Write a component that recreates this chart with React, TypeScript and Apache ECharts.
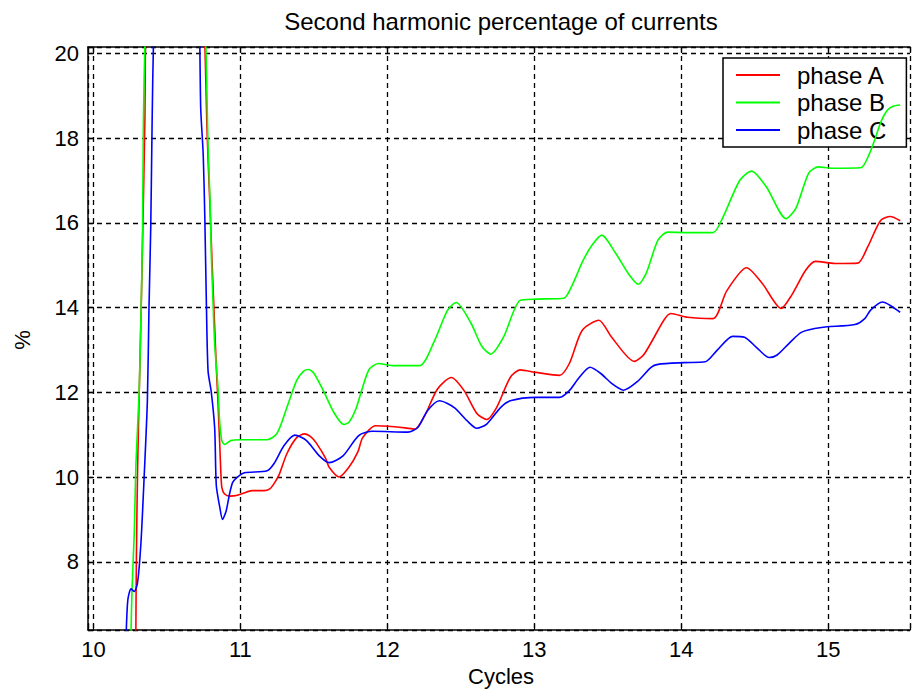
import React, { useEffect, useRef } from "react";
import * as echarts from "echarts";

const titleText = "Second harmonic percentage of currents";
const xAxisName = "Cycles";
const yAxisName = "%";
const seriesNames = ["phase A", "phase B", "phase C"];
const seriesColors = ["#ff0000", "#00ff00", "#0000ff"];

const xMin = 9.963;
const xMax = 15.556;
const yMin = 6.39;
const yMax = 20.15;

const cyclesA = [10.288, 10.292, 10.3, 10.311, 10.323, 10.334, 10.35, 10.356, 10.45, 10.62, 10.755, 10.765, 10.772, 10.78, 10.794, 10.808, 10.822, 10.836, 10.847, 10.859, 10.867, 10.874, 10.892, 10.93, 10.98, 11.02, 11.08, 11.16, 11.2, 11.23, 11.263, 11.316, 11.383, 11.437, 11.48, 11.517, 11.58, 11.604, 11.671, 11.738, 11.8, 11.832, 11.919, 12.006, 12.12, 12.187, 12.254, 12.341, 12.435, 12.522, 12.609, 12.676, 12.743, 12.836, 12.903, 13.011, 13.171, 13.238, 13.325, 13.439, 13.526, 13.68, 13.747, 13.881, 13.928, 14.042, 14.216, 14.31, 14.444, 14.551, 14.679, 14.752, 14.846, 14.913, 15.047, 15.201, 15.268, 15.355, 15.422, 15.489];
const phaseA = [6.0, 8.0, 10.1, 11.9, 13.7, 15.5, 18.4, 20.5, 30, 30, 20.5, 19.3, 18.3, 17.5, 16.3, 15.0, 13.8, 12.6, 11.8, 10.8, 10.1, 9.75, 9.6, 9.55, 9.57, 9.62, 9.68, 9.68, 9.72, 9.85, 10.05, 10.55, 10.93, 11.02, 10.95, 10.8, 10.44, 10.23, 10.0, 10.23, 10.6, 10.93, 11.21, 11.2, 11.16, 11.13, 11.45, 12.08, 12.35, 12.04, 11.5, 11.36, 11.64, 12.35, 12.53, 12.47, 12.4, 12.68, 13.46, 13.7, 13.3, 12.73, 12.9, 13.7, 13.86, 13.77, 13.74, 14.4, 14.94, 14.57, 13.98, 14.3, 14.88, 15.09, 15.04, 15.05, 15.43, 16.05, 16.15, 16.05];

const cyclesB = [10.254, 10.262, 10.278, 10.289, 10.311, 10.323, 10.334, 10.34, 10.352, 10.45, 10.62, 10.762, 10.78, 10.794, 10.802, 10.814, 10.825, 10.847, 10.859, 10.874, 10.892, 10.934, 11.0, 11.182, 11.249, 11.316, 11.383, 11.43, 11.464, 11.5, 11.564, 11.64, 11.705, 11.74, 11.785, 11.872, 11.939, 12.033, 12.22, 12.321, 12.408, 12.468, 12.569, 12.64, 12.703, 12.79, 12.903, 13.011, 13.2, 13.26, 13.33, 13.392, 13.459, 13.55, 13.64, 13.707, 13.76, 13.841, 13.908, 14.042, 14.216, 14.283, 14.397, 14.478, 14.578, 14.712, 14.779, 14.866, 14.933, 15.02, 15.221, 15.281, 15.315, 15.36, 15.4, 15.44, 15.489];
const phaseB = [6.0, 7.3, 8.7, 10.3, 12.0, 13.7, 15.8, 18.4, 20.5, 32, 32, 20.5, 17.8, 16.5, 15.24, 14.1, 13.13, 12.13, 11.3, 10.85, 10.77, 10.86, 10.88, 10.88, 11.03, 11.64, 12.28, 12.5, 12.54, 12.45, 12.04, 11.5, 11.24, 11.3, 11.6, 12.52, 12.68, 12.63, 12.63, 13.22, 13.93, 14.12, 13.63, 13.1, 12.9, 13.3, 14.17, 14.2, 14.22, 14.55, 15.1, 15.47, 15.71, 15.3, 14.8, 14.55, 14.8, 15.59, 15.78, 15.77, 15.77, 16.13, 17.0, 17.22, 16.85, 16.1, 16.34, 17.17, 17.32, 17.29, 17.3, 17.64, 17.95, 18.4, 18.65, 18.75, 18.78];

const cyclesC = [10.222, 10.234, 10.256, 10.278, 10.3, 10.323, 10.345, 10.367, 10.378, 10.39, 10.399, 10.41, 10.5, 10.64, 10.722, 10.73, 10.747, 10.758, 10.769, 10.78, 10.802, 10.825, 10.836, 10.859, 10.878, 10.903, 10.926, 10.948, 10.98, 11.028, 11.182, 11.229, 11.296, 11.37, 11.45, 11.537, 11.604, 11.698, 11.805, 11.899, 12.14, 12.207, 12.274, 12.354, 12.455, 12.542, 12.609, 12.676, 12.77, 12.836, 13.011, 13.171, 13.238, 13.305, 13.379, 13.45, 13.526, 13.607, 13.7, 13.794, 13.841, 14.015, 14.163, 14.243, 14.35, 14.43, 14.511, 14.598, 14.652, 14.732, 14.819, 14.953, 15.181, 15.248, 15.288, 15.368, 15.422, 15.489];
const phaseC = [6.2, 7.1, 7.36, 7.3, 7.5, 8.43, 10.0, 11.8, 14.0, 15.9, 18.3, 20.5, 30, 30, 20.5, 18.7, 17.6, 16.1, 14.0, 12.5, 12.0, 11.15, 9.8, 9.3, 9.0, 9.2, 9.6, 9.88, 10.0, 10.1, 10.15, 10.32, 10.74, 10.99, 10.86, 10.5, 10.34, 10.5, 10.98, 11.08, 11.06, 11.17, 11.57, 11.8, 11.64, 11.33, 11.15, 11.25, 11.64, 11.8, 11.88, 11.88, 12.04, 12.35, 12.59, 12.45, 12.21, 12.05, 12.25, 12.59, 12.66, 12.7, 12.72, 12.99, 13.32, 13.3, 13.06, 12.82, 12.88, 13.15, 13.42, 13.53, 13.6, 13.74, 13.94, 14.13, 14.05, 13.89];

const FONT = "'Liberation Sans', Arial, sans-serif";

const pair = (xs: number[], ys: number[]) => xs.map((x, i) => [x, ys[i]]);

export default function App() {
  const ref = useRef<HTMLDivElement>(null);
  useEffect(() => {
    if (!ref.current) return;
    const chart = echarts.init(ref.current, undefined, { renderer: "svg" });
    const isInt = (v: number) => Math.abs(v - Math.round(v)) < 1e-6;
    const dataSets = [pair(cyclesA, phaseA), pair(cyclesB, phaseB), pair(cyclesC, phaseC)];
    chart.setOption({
      animation: false,
      backgroundColor: "#ffffff",
      title: {
        text: titleText,
        left: 501,
        top: 9,
        padding: 0,
        textAlign: "center",
        textStyle: { fontFamily: FONT, fontSize: 24, fontWeight: "normal", color: "#000" },
      },
      legend: {
        orient: "vertical",
        left: 723,
        top: 58,
        padding: [5, 20, 5, 13],
        itemGap: 3.5,
        itemWidth: 44,
        itemHeight: 2,
        icon: "rect",
        backgroundColor: "#ffffff",
        borderColor: "#000",
        borderWidth: 1.5,
        borderRadius: 0,
        data: seriesNames.map((n) => ({ name: n, icon: "rect" })),
        textStyle: { fontFamily: FONT, fontSize: 24, color: "#000", padding: [0, 0, 0, 12] },
      },
      grid: { left: 88, top: 47, width: 835, height: 583, show: false, containLabel: false },
      xAxis: [
        {
          type: "value",
          min: xMin,
          max: xMax,
          splitNumber: 5,
          position: "bottom",
          axisLine: { show: true, lineStyle: { color: "#000", width: 1.5 } },
          axisTick: { show: true, inside: true, length: 6, lineStyle: { color: "#000", width: 1.2 } },
          axisLabel: {
            margin: 8,
            fontFamily: FONT,
            fontSize: 22,
            color: "#000",
            formatter: (v: number) => (isInt(v) ? String(Math.round(v)) : ""),
          },
          splitLine: { show: true, lineStyle: { color: "#000", width: 1.3, type: [5, 4] } },
        },
        {
          type: "value",
          min: xMin,
          max: xMax,
          splitNumber: 5,
          position: "top",
          axisLine: { show: true, lineStyle: { color: "#000", width: 1.5 } },
          axisTick: { show: true, inside: true, length: 6, lineStyle: { color: "#000", width: 1.2 } },
          axisLabel: { show: false },
          splitLine: { show: false },
        },
      ],
      yAxis: {
        type: "value",
        min: yMin,
        max: yMax,
        splitNumber: 7,
        axisLine: { show: true, lineStyle: { color: "#000", width: 1.5 } },
        axisTick: { show: true, inside: true, length: 6, lineStyle: { color: "#000", width: 1.2 } },
        axisLabel: {
          margin: 9,
          fontFamily: FONT,
          fontSize: 22,
          color: "#000",
          formatter: (v: number) => (isInt(v) ? String(Math.round(v)) : ""),
        },
        splitLine: { show: true, lineStyle: { color: "#000", width: 1.3, type: [5, 4] } },
      },
      graphic: [
        {
          type: "text",
          x: 501,
          y: 676,
          style: { text: xAxisName, fontFamily: FONT, fontSize: 22, fill: "#000", textAlign: "center", textVerticalAlign: "middle" },
        },
        {
          type: "text",
          x: 22,
          y: 340,
          rotation: Math.PI / 2,
          style: { text: yAxisName, fontFamily: FONT, fontSize: 22, fill: "#000", textAlign: "center", textVerticalAlign: "middle" },
        },
      ],
      series: seriesNames.map((name, i) => ({
        name,
        type: "line",
        xAxisIndex: 0,
        data: dataSets[i],
        symbol: "none",
        showSymbol: false,
        smooth: 0.25,
        clip: true,
        color: seriesColors[i],
        itemStyle: { color: seriesColors[i] },
        lineStyle: { color: seriesColors[i], width: 1.6 },
        z: 3 + i,
      })),
    });
    return () => chart.dispose();
  }, []);
  return (
    <div
      ref={ref}
      style={{ position: "fixed", left: 0, top: 0, width: 913, height: 690, background: "#fff" }}
    />
  );
}
